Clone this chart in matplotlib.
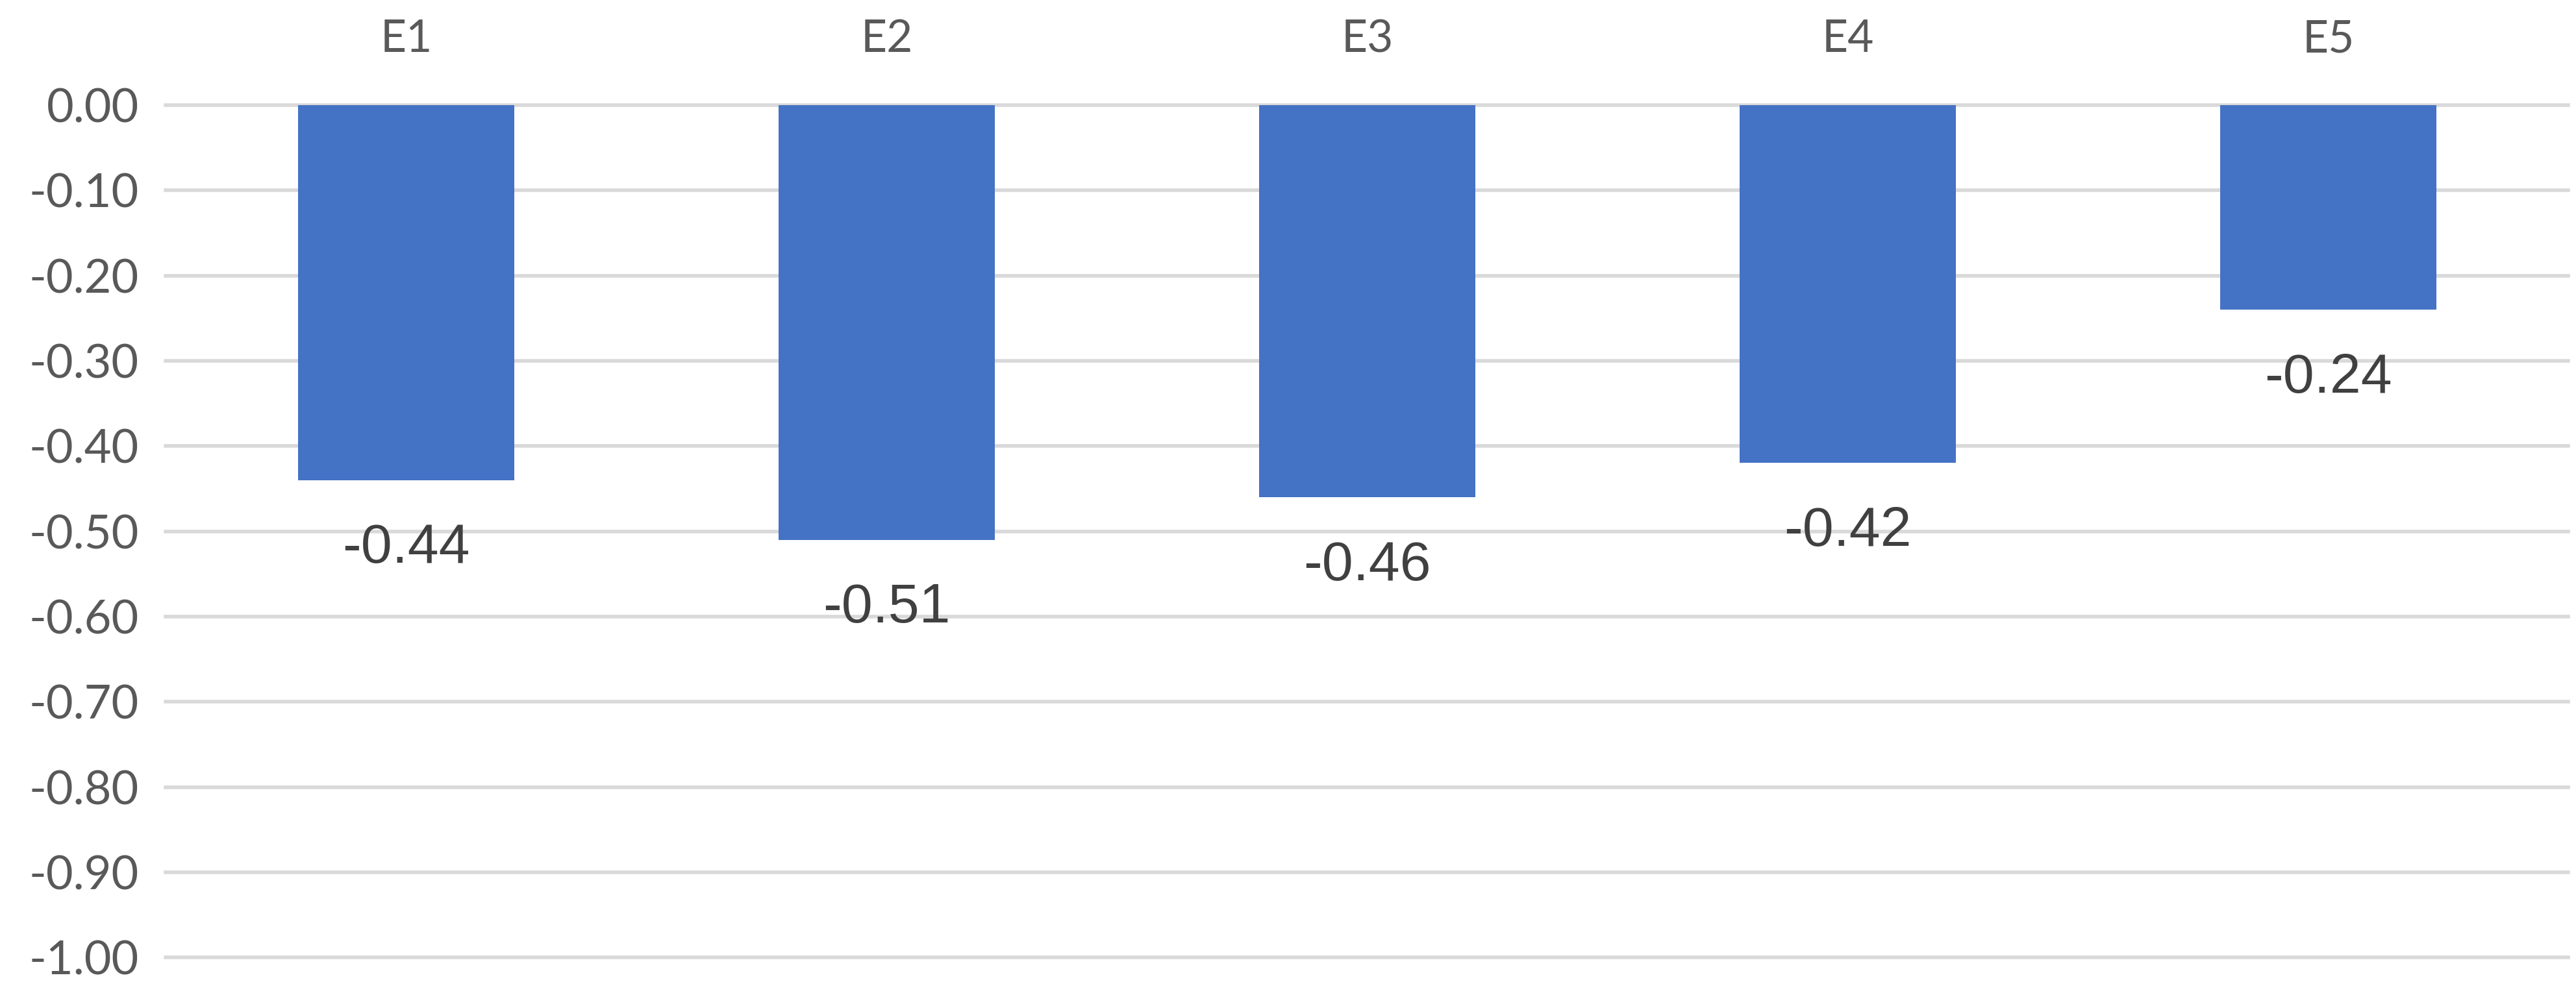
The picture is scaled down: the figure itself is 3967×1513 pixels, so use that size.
import matplotlib
matplotlib.use("Agg")
import matplotlib.pyplot as plt

categories = ["E1", "E2", "E3", "E4", "E5"]
values = [-0.44, -0.51, -0.46, -0.42, -0.24]
value_labels = ["-0.44", "-0.51", "-0.46", "-0.42", "-0.24"]
y_ticks = [0.0, -0.1, -0.2, -0.3, -0.4, -0.5, -0.6, -0.7, -0.8, -0.9, -1.0]

text_gray = "#595959"

fig = plt.figure(figsize=(19.835, 7.565), dpi=200)
ax = fig.add_axes([0.0644, 0.025, 0.9327, 0.868])

x = range(len(categories))
ax.bar(x, values, width=0.45, color="#4472C4", zorder=3)

# data labels under each bar
for i, (v, lab) in enumerate(zip(values, value_labels)):
    ax.annotate(lab, (i, v), xytext=(0, -38), textcoords="offset points",
                ha="center", va="center", fontsize=31, color="#404040",
                family="Liberation Sans")

ax.set_xlim(-0.5, len(categories) - 0.5)
ax.set_ylim(-1.0, 0.0)
ax.set_yticks(y_ticks)
ax.set_yticklabels([f"{t:.2f}" for t in y_ticks], family="Lato",
                   fontsize=26, color=text_gray)
ax.xaxis.tick_top()
ax.set_xticks(list(x))
ax.set_xticklabels(categories, family="Lato", fontsize=25, color=text_gray)
ax.tick_params(axis="x", length=0, pad=25)
ax.tick_params(axis="y", length=0, pad=15)

ax.grid(axis="y", color="#D9D9D9", linewidth=2, zorder=0)
for gl in ax.get_ygridlines():
    gl.set_clip_on(False)
for s in ax.spines.values():
    s.set_visible(False)

fig.savefig("out.png", dpi=200, facecolor="white")
